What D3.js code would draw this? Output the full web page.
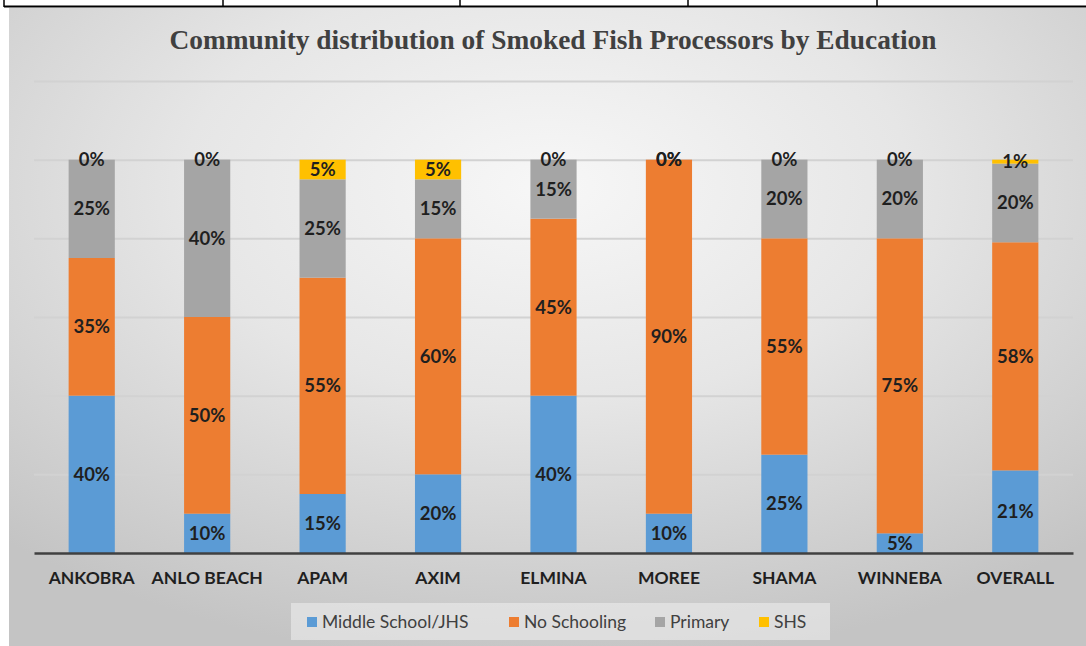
<!DOCTYPE html>
<html>
<head>
<meta charset="utf-8">
<script src="https://cdn.jsdelivr.net/npm/d3@7"></script>
<style>
  html, body { margin: 0; padding: 0; background: #ffffff; }
  svg { display: block; }
</style>
</head>
<body>
<svg id="chart" width="1086" height="646"></svg>
<script>
// Communities on the x axis
const communities = ["ANKOBRA", "ANLO BEACH", "APAM", "AXIM", "ELMINA", "MOREE", "SHAMA", "WINNEBA", "OVERALL"];

// Share of processors per education level (fractions, stacked bottom to top)
const middleSchoolJHS = [0.40, 0.10, 0.15, 0.20, 0.40, 0.10, 0.25, 0.05, 0.21];
const noSchooling     = [0.35, 0.50, 0.55, 0.60, 0.45, 0.90, 0.55, 0.75, 0.58];
const primary         = [0.25, 0.40, 0.25, 0.15, 0.15, 0.00, 0.20, 0.20, 0.20];
const shs             = [0.00, 0.00, 0.05, 0.05, 0.00, 0.00, 0.00, 0.00, 0.01];

const seriesNames = ["Middle School/JHS", "No Schooling", "Primary", "SHS"];
const seriesValues = [middleSchoolJHS, noSchooling, primary, shs];
const seriesColors = ["#5b9bd5", "#ed7d31", "#a5a5a5", "#ffc000"];

// Gridline values on the hidden value axis
const yTicks = [0, 0.2, 0.4, 0.6, 0.8, 1.0, 1.2];

const svg = d3.select("#chart");
const W = 1086, H = 646;

// Frame background with a soft radial shading
const defs = svg.append("defs");
const grad = defs.append("radialGradient")
  .attr("id", "bg").attr("cx", "50%").attr("cy", "28%").attr("r", "75%")
  .attr("gradientUnits", "objectBoundingBox");
grad.append("stop").attr("offset", "0%").attr("stop-color", "#f7f7f7");
grad.append("stop").attr("offset", "45%").attr("stop-color", "#e6e6e6");
grad.append("stop").attr("offset", "100%").attr("stop-color", "#c4c4c4");

svg.append("rect").attr("x", 9).attr("y", 8).attr("width", W - 9).attr("height", H - 8)
  .attr("fill", "url(#bg)");

// Table rule lines above the chart
svg.append("line").attr("x1", 4).attr("x2", W).attr("y1", 6.5).attr("y2", 6.5)
  .attr("stroke", "#000").attr("stroke-width", 2);
[4, 223, 460, 688, 877].forEach(x => {
  svg.append("line").attr("x1", x).attr("x2", x).attr("y1", 0).attr("y2", 7)
    .attr("stroke", "#000").attr("stroke-width", 1.5);
});

// Title
svg.append("text")
  .attr("x", 553).attr("y", 49)
  .attr("text-anchor", "middle")
  .attr("font-family", "'Liberation Serif', 'Times New Roman', serif")
  .attr("font-weight", "bold")
  .attr("font-size", 28)
  .attr("textLength", 767)
  .attr("lengthAdjust", "spacingAndGlyphs")
  .attr("fill", "#404040")
  .text("Community distribution of Smoked Fish Processors by Education");

// Scales
const x = d3.scaleBand().domain(communities).range([34, 1073]).paddingInner(0.6).paddingOuter(0.3);
const y = d3.scaleLinear().domain([0, 1.2]).range([553, 81]);

// Gridlines
svg.append("g")
  .attr("transform", "translate(34,0)")
  .call(d3.axisLeft(y).tickValues(yTicks.slice(1)).tickSize(-(1073 - 34)).tickFormat(""))
  .call(g => g.select(".domain").remove())
  .call(g => g.selectAll(".tick line").attr("stroke", "#d2d2d2").attr("stroke-width", 2));

// Stack the series
const rows = communities.map((c, i) => {
  const r = { community: c };
  seriesNames.forEach((s, k) => { r[s] = seriesValues[k][i]; });
  return r;
});
const stacked = d3.stack().keys(seriesNames)(rows);

const layers = svg.append("g").selectAll("g").data(stacked).join("g")
  .attr("fill", (d, i) => seriesColors[i]);

layers.selectAll("rect").data(d => d).join("rect")
  .attr("x", d => x(d.data.community))
  .attr("width", x.bandwidth())
  .attr("y", d => y(d[1]))
  .attr("height", d => y(d[0]) - y(d[1]));

// Category axis
const xAxis = svg.append("g")
  .attr("transform", "translate(0,553)")
  .call(d3.axisBottom(x).tickSize(0).tickPadding(19));
xAxis.select(".domain").attr("stroke", "#404040").attr("stroke-width", 2.5);
xAxis.selectAll("text")
  .attr("font-family", "Lato, 'Open Sans', sans-serif")
  .attr("font-weight", "bold")
  .attr("font-size", 17.5)
  .attr("fill", "#1f1f1f");

// Data labels at segment centres
const labels = svg.append("g");
stacked.forEach(layer => {
  layer.forEach(d => {
    const v = d[1] - d[0];
    labels.append("text")
      .attr("x", x(d.data.community) + x.bandwidth() / 2)
      .attr("y", y((d[0] + d[1]) / 2))
      .attr("dy", "0.35em")
      .attr("text-anchor", "middle")
      .attr("font-family", "Lato, 'Open Sans', sans-serif")
      .attr("font-weight", "bold")
      .attr("font-size", 18.5)
      .attr("fill", "#1f1f1f")
      .text(d3.format(".0%")(v));
  });
});

// Legend
const legend = svg.append("g");
legend.append("rect").attr("x", 291).attr("y", 603).attr("width", 539).attr("height", 37)
  .attr("fill", "#ededed").attr("opacity", 0.6);
const legendX = [307, 509, 655, 759];
seriesNames.forEach((s, i) => {
  const g = legend.append("g").attr("transform", `translate(${legendX[i]},622)`);
  g.append("rect").attr("x", 0).attr("y", -5).attr("width", 10).attr("height", 10).attr("fill", seriesColors[i]);
  g.append("text").attr("x", 15).attr("dy", "0.35em")
    .attr("font-family", "Lato, 'Open Sans', sans-serif")
    .attr("font-size", 17.5)
    .attr("fill", "#404040")
    .text(s);
});
</script>
</body>
</html>
